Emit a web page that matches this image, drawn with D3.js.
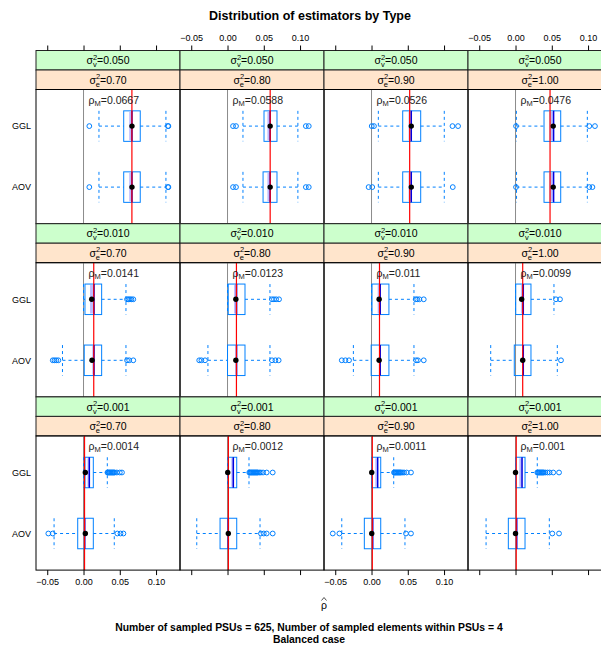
<!DOCTYPE html>
<html>
<head>
<meta charset="utf-8">
<script src="https://cdn.jsdelivr.net/npm/d3@7"></script>
<style>
  body { margin: 0; background: #fff; }
  svg { font-family: "Liberation Sans", Arial, Helvetica, sans-serif; }
</style>
</head>
<body>
<div id="graph"></div>
<script>
// strips and panel values
var sigmaV = ["0.050", "0.010", "0.001"];
var sigmaE = ["0.70", "0.80", "0.90", "1.00"];
var rhoM = [[0.0667, 0.0588, 0.0526, 0.0476],
            [0.0141, 0.0123, 0.011, 0.0099],
            [0.0014, 0.0012, 0.0011, 0.001]];
var types = ["AOV", "GGL"];
var xTicks = [-0.05, 0, 0.05, 0.10];

// [lower whisker, q1, median, q3, upper whisker, mean, band start]
var gglStats = [
  [[0.0213, 0.0554, 0.0668, 0.0782, 0.1136, 0.0668, 0.063],
   [0.0213, 0.0503, 0.0588, 0.0682, 0.097, 0.0588, 0.055],
   [0.0094, 0.043, 0.0548, 0.0678, 0.1003, 0.0548, 0.051],
   [0.0012, 0.0393, 0.0525, 0.0623, 0.099, 0.052, 0.0466]],
  [[0.0, 0.002, 0.0145, 0.025, 0.0585, 0.0113, 0.009],
   [0.0, 0.001, 0.0125, 0.0241, 0.0585, 0.0115, 0.009],
   [0.0, 0.0007, 0.012, 0.024, 0.0585, 0.0105, 0.0085],
   [0.0, 0.0003, 0.0107, 0.0213, 0.053, 0.0085, 0.0075]],
  [[0.0, 0.002, 0.008, 0.0135, 0.0328, 0.0025, 0.0054],
   [0.0, 0.0011, 0.008, 0.0127, 0.0296, 0.0003, 0.0052],
   [0.0, 0.0003, 0.0085, 0.0127, 0.0306, 0.0003, 0.0052],
   [0.0, 0.0003, 0.009, 0.0131, 0.030, 0.0, 0.0052]]
];
var aovStats = [
  [[0.0213, 0.0554, 0.0668, 0.0782, 0.1136, 0.0668, 0.063],
   [0.0213, 0.049, 0.0588, 0.0682, 0.097, 0.0588, 0.055],
   [0.0094, 0.043, 0.0548, 0.0678, 0.1003, 0.0548, 0.051],
   [0.0014, 0.0393, 0.0525, 0.0623, 0.099, 0.052, 0.0466]],
  [[-0.029, 0.001, 0.0145, 0.025, 0.0585, 0.0117, 0.012],
   [-0.027, 0.0, 0.0125, 0.0241, 0.0585, 0.0115, 0.011],
   [-0.025, -0.0005, 0.012, 0.024, 0.0585, 0.0105, 0.0105],
   [-0.0342, -0.0017, 0.0107, 0.0213, 0.0576, 0.0099, 0.0099]],
  [[-0.0406, -0.008, 0.0017, 0.0135, 0.0424, 0.0025, 0.0],
   [-0.0424, -0.0103, 0.0011, 0.0127, 0.0448, 0.0011, 0.0],
   [-0.041, -0.0099, 0.0017, 0.0127, 0.0461, 0.0003, 0.0],
   [-0.0406, -0.0099, 0.0017, 0.0131, 0.0466, 0.0, 0.0]]
];
var gglOut = [
  [[0.008, 0.1164, 0.117], [0.0076, 0.0117, 0.108, 0.112],
   [0.0003, 0.0034, 0.1116, 0.1193], [0.0007, 0.1017, 0.1095]],
  [[0.060, 0.062, 0.064, 0.066, 0.0686], [0.0613, 0.064, 0.067, 0.071],
   [0.061, 0.063, 0.066, 0.072], [0.0558, 0.0613]],
  [[0.033, 0.034, 0.035, 0.036, 0.037, 0.038, 0.039, 0.040, 0.041, 0.042, 0.043, 0.046, 0.050, 0.053],
   [0.030, 0.031, 0.032, 0.033, 0.034, 0.035, 0.036, 0.037, 0.038, 0.039, 0.040, 0.041, 0.042, 0.044, 0.046, 0.049, 0.054, 0.0623],
   [0.031, 0.032, 0.033, 0.034, 0.035, 0.036, 0.037, 0.038, 0.039, 0.040, 0.041, 0.043, 0.045, 0.0485, 0.0544],
   [0.030, 0.031, 0.032, 0.033, 0.034, 0.035, 0.036, 0.037, 0.038, 0.039, 0.041, 0.044, 0.047, 0.052, 0.06]]
];
var aovOut = [
  [[0.008, 0.1164, 0.117], [0.0076, 0.0117, 0.108, 0.112],
   [-0.004, 0.001, 0.112], [0.0007, 0.1017, 0.106]],
  [[-0.0424, -0.040, -0.0375, -0.0347, 0.060, 0.063, 0.0686],
   [-0.039, -0.036, -0.031, 0.0613, 0.066, 0.0705],
   [-0.041, -0.036, -0.031, 0.0615, 0.064, 0.072], [0.0627]],
  [[-0.0485, -0.0424, 0.0466, 0.051, 0.055], [0.046, 0.050, 0.054, 0.0623],
   [-0.0534, -0.0443, 0.0475, 0.0544], [0.0507, 0.06]]
];

var W = 601, H = 646,
    left = 36, colW = 144, top0 = 50.5, rowH = 173.2, stripH = 19.5,
    boxCol = "#0080ff";

var svg = d3.select("#graph").append("svg")
    .attr("width", W).attr("height", H);

// titre
svg.append("text")
    .attr("x", 310).attr("y", 19.5)
    .attr("text-anchor", "middle")
    .attr("font-size", 12.5).attr("font-weight", "bold")
    .text("Distribution of estimators by Type");

function sigmaLabel(t, sub, val) {
    t.append("tspan").text("\u03c3");
    t.append("tspan").attr("font-size", 7.5).attr("dy", -4.5).text("2");
    t.append("tspan").attr("font-size", 7.5).attr("dx", -4.2).attr("dy", 7.5).text(sub);
    t.append("tspan").attr("dy", -3).attr("dx", sub == "v" ? 0.4 : 0).text("=" + val);
}

var defs = svg.append("defs");

sigmaV.forEach(function(sv, r) {
    var rowTop = top0 + r * rowH,
        pTop = rowTop + 2 * stripH,
        pBot = rowTop + rowH;
    var y = d3.scaleLinear().domain([0.4, 2.6]).range([pBot, pTop]);
    var half = y(0) - y(0.25);

    sigmaE.forEach(function(se, c) {
        var x0 = left + c * colW;
        var x = d3.scaleLinear().domain([-0.0655, 0.133]).range([x0, x0 + colW]);

        // bandeaux
        svg.append("rect")
            .attr("x", x0).attr("y", rowTop).attr("width", colW).attr("height", stripH)
            .attr("fill", "#ccffcc").attr("stroke", "#222");
        svg.append("rect")
            .attr("x", x0).attr("y", rowTop + stripH).attr("width", colW).attr("height", stripH)
            .attr("fill", "#ffe5cc").attr("stroke", "#222");
        sigmaLabel(svg.append("text")
            .attr("x", x0 + colW / 2).attr("y", rowTop + stripH / 2 + 4)
            .attr("text-anchor", "middle").attr("font-size", 10.5), "v", sv);
        sigmaLabel(svg.append("text")
            .attr("x", x0 + colW / 2).attr("y", rowTop + stripH * 1.5 + 4)
            .attr("text-anchor", "middle").attr("font-size", 10.5), "e", se);

        var id = "clip" + r + c;
        defs.append("clipPath").attr("id", id).append("rect")
            .attr("x", x0).attr("y", pTop).attr("width", colW).attr("height", pBot - pTop);
        var g = svg.append("g").attr("clip-path", "url(#" + id + ")");

        // ligne de référence à 0
        g.append("line")
            .attr("x1", x(0)).attr("x2", x(0)).attr("y1", pTop).attr("y2", pBot)
            .attr("stroke", "#8c8c8c").attr("stroke-width", 1);

        var red = x(rhoM[r][c]);

        [aovStats, gglStats].forEach(function(stats, k) {
            var s = stats[r][c], out = (k == 0 ? aovOut : gglOut)[r][c], yc = y(k + 1);
            // moustaches
            [[s[0], s[1]], [s[3], s[4]]].forEach(function(w) {
                g.append("line")
                    .attr("x1", x(w[0])).attr("x2", x(w[1])).attr("y1", yc).attr("y2", yc)
                    .attr("stroke", boxCol).attr("stroke-dasharray", "3,3");
            });
            [s[0], s[4]].forEach(function(v) {
                g.append("line")
                    .attr("x1", x(v)).attr("x2", x(v)).attr("y1", yc - half).attr("y2", yc + half)
                    .attr("stroke", boxCol).attr("stroke-dasharray", "3,3");
            });
            g.append("rect")
                .attr("x", x(s[1])).attr("y", yc - half)
                .attr("width", x(s[3]) - x(s[1])).attr("height", 2 * half)
                .attr("fill", "none").attr("stroke", boxCol);
            g.append("rect")
                .attr("x", x(s[6])).attr("y", yc - half + 1)
                .attr("width", Math.max(x(s[2]) - x(s[6]), 0)).attr("height", 2 * half - 2)
                .attr("fill", "#8f8fff").attr("opacity", 0.6);
            g.append("line")
                .attr("x1", x(s[2])).attr("x2", x(s[2])).attr("y1", yc - half).attr("y2", yc + half)
                .attr("stroke", "#0000dd").attr("stroke-width", 1.5);
            g.selectAll(null).data(out).enter().append("circle")
                .attr("cx", function(d) { return x(d); }).attr("cy", yc).attr("r", 2.4)
                .attr("fill", "none").attr("stroke", boxCol);
        });

        g.append("line")
            .attr("x1", red).attr("x2", red).attr("y1", pTop).attr("y2", pBot)
            .attr("stroke", "red").attr("stroke-width", 1.2);

        [aovStats, gglStats].forEach(function(stats, k) {
            g.append("circle")
                .attr("cx", x(stats[r][c][5])).attr("cy", y(k + 1)).attr("r", 2.7)
                .attr("fill", "black");
        });

        // texte rho_M
        var t = g.append("text")
            .attr("x", x(0) + 5).attr("y", pTop + 14)
            .attr("font-size", 10.5).attr("fill", "#222");
        t.append("tspan").text("\u03c1");
        t.append("tspan").attr("font-size", 7.5).attr("dy", 2.5).text("M");
        t.append("tspan").attr("dy", -2.5).text("=" + rhoM[r][c]);

        svg.append("rect")
            .attr("x", x0).attr("y", pTop).attr("width", colW).attr("height", pBot - pTop)
            .attr("fill", "none").attr("stroke", "black");

        // axes haut et bas
        if (r == 0) {
            var at = svg.append("g").attr("transform", "translate(0," + rowTop + ")")
                .call(d3.axisTop(x).tickValues(xTicks).tickSize(5).tickPadding(4.5)
                    .tickFormat(c % 2 == 1 ? d3.format(".2f") : ""));
            at.select(".domain").remove();
            at.selectAll("text").attr("font-size", 9).attr("font-family", null);
        }
        if (r == sigmaV.length - 1) {
            var ab = svg.append("g").attr("transform", "translate(0," + pBot + ")")
                .call(d3.axisBottom(x).tickValues(xTicks).tickSize(5).tickPadding(4)
                    .tickFormat(c % 2 == 0 ? d3.format(".2f") : ""));
            ab.select(".domain").remove();
            ab.selectAll("text").attr("font-size", 9).attr("font-family", null);
        }
    });

    // étiquettes des types
    types.forEach(function(tp, k) {
        svg.append("text")
            .attr("x", 31).attr("y", y(k + 1) + 3.2)
            .attr("text-anchor", "end").attr("font-size", 9)
            .text(tp);
    });
});

// titre de l'axe x (rho chapeau)
svg.append("text")
    .attr("x", 324).attr("y", 609)
    .attr("text-anchor", "middle").attr("font-size", 10.5)
    .text("\u03c1");
svg.append("path")
    .attr("d", "M321.5,600.5 L324,597.5 L326.5,600.5")
    .attr("fill", "none").attr("stroke", "#222").attr("stroke-width", 0.8);

svg.append("text")
    .attr("x", 309).attr("y", 631)
    .attr("text-anchor", "middle").attr("font-size", 10.4).attr("font-weight", "bold")
    .text("Number of sampled PSUs = 625, Number of sampled elements within PSUs = 4");
svg.append("text")
    .attr("x", 309).attr("y", 643)
    .attr("text-anchor", "middle").attr("font-size", 10.4).attr("font-weight", "bold")
    .text("Balanced case");
</script>
</body>
</html>
